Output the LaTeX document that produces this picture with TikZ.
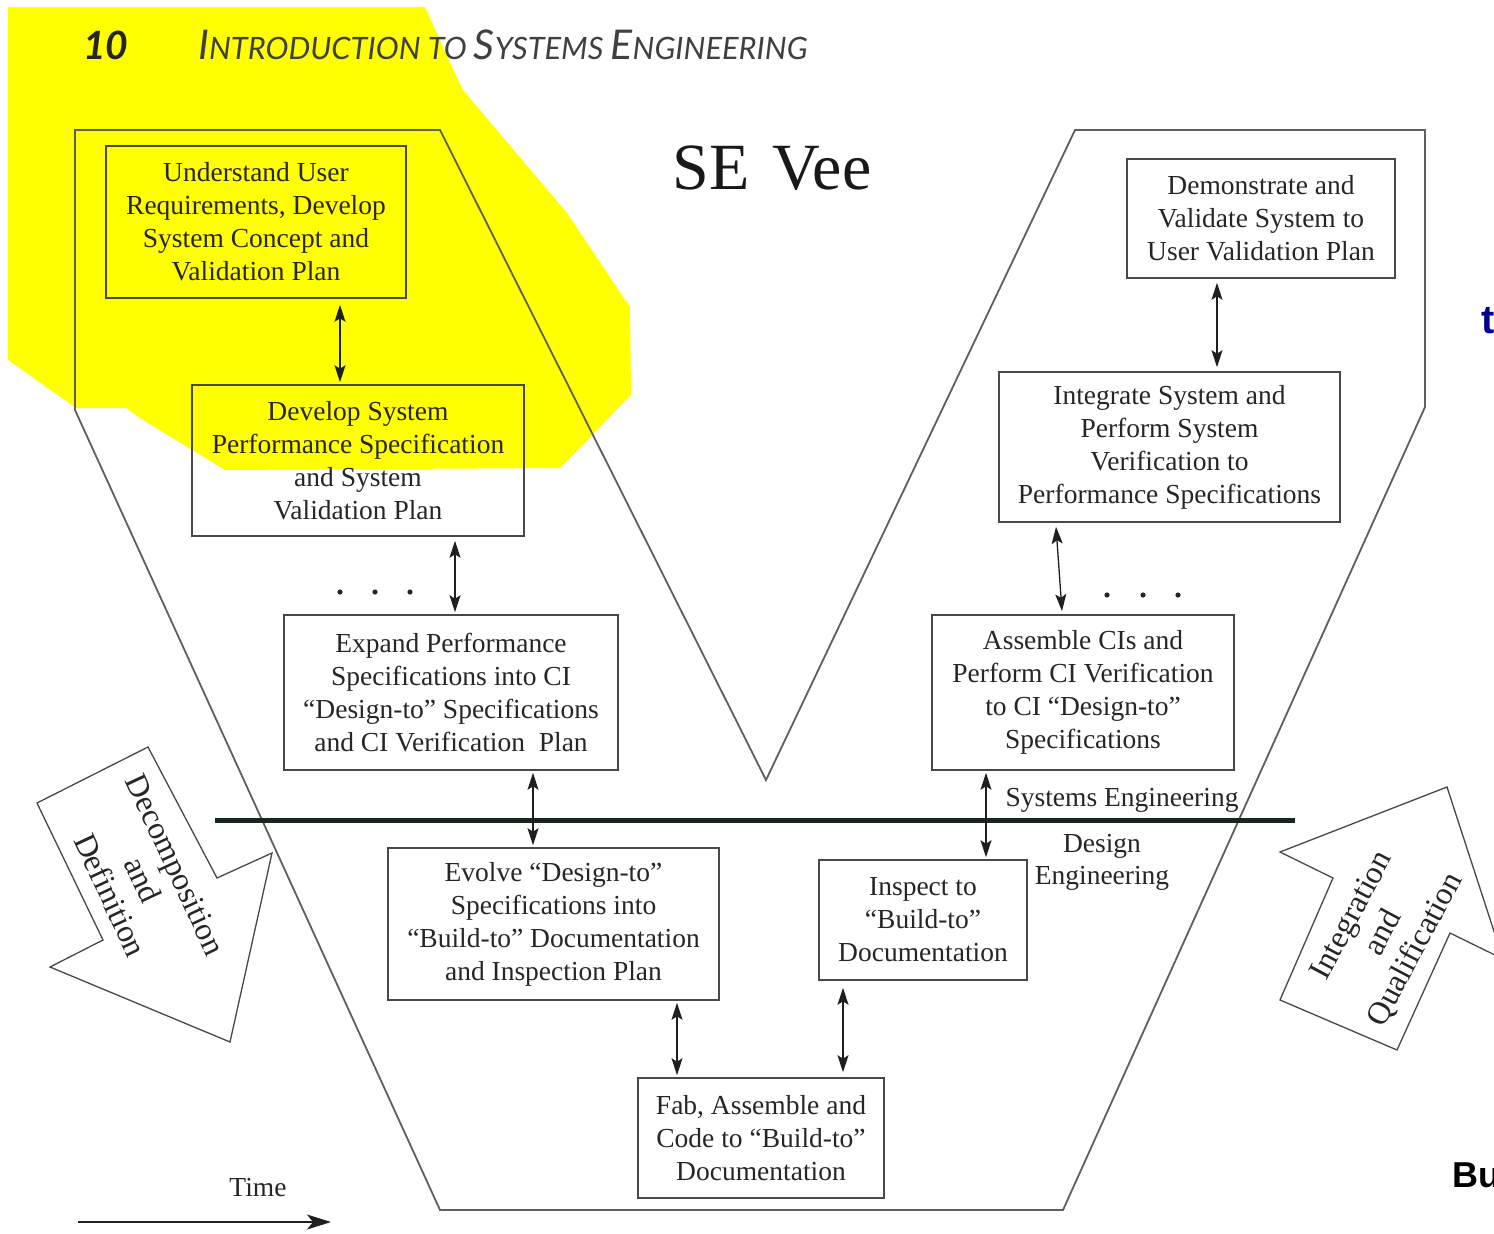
\documentclass[tikz,border=0pt]{standalone}
\usepackage{fontspec}
\setmainfont{Liberation Serif}
\newfontfamily\hdrfont{Lato}
\newfontfamily\slidefont{Liberation Sans}
\usetikzlibrary{arrows.meta}

\definecolor{hilite}{RGB}{255,255,0}
\definecolor{inkline}{RGB}{72,72,72}
\definecolor{veeline}{RGB}{95,95,95}
\definecolor{inktext}{RGB}{38,38,38}
\definecolor{barcol}{RGB}{24,38,30}
\definecolor{navyink}{RGB}{0,0,145}

\newcommand{\hdrcap}[1]{{\fontsize{41}{41}\selectfont #1}}
\newcommand{\hdrsmall}[1]{{\fontsize{30.8}{31}\selectfont #1}}

\tikzset{
  vbox/.style={draw=inkline, line width=1.6pt, inner sep=0pt, align=center,
    text=inktext, font=\fontsize{27.5}{33}\selectfont},
  tipS/.tip={Stealth[length=17pt,width=11pt,inset=3.5pt]},
  dbl/.style={tipS-tipS, line width=1.3pt, draw=black!88},
  veeline/.style={draw=veeline, line width=1.8pt, line join=miter},
  blockarrow/.style={draw=inkline, line width=1.3pt, fill=white, line join=miter},
  arrowtext/.style={align=center, text=inktext, font=\fontsize{32}{36}\selectfont},
  plain/.style={text=inktext, font=\fontsize{27.5}{32}\selectfont, align=center},
  dotmark/.style={fill=black!85},
}

\begin{document}
\begin{tikzpicture}[x=1pt,y=-1pt]
\useasboundingbox (0,0) rectangle (1494,1234);
\fill[white] (0,0) rectangle (1494,1234);

% highlighter marking over the first steps
\fill[hilite] (8,7) -- (425,7) -- (452,67) -- (463,90) -- (567,213) -- (630,307)
  -- (631,395) -- (560,468) -- (225,470) -- (143,420) -- (126,408) -- (76,408)
  -- (8,360) -- cycle;

% running head
\node[anchor=west, text=black!85, inner sep=0pt] (pageno) at (83,45)
  {\hdrfont\bfseries\itshape\fontsize{39}{39}\selectfont 10};
\node[anchor=west, text=black!75, inner sep=0pt] (runhead) at (198,45)
  {\hdrfont\itshape\hdrcap{I}\hdrsmall{NTRODUCTION TO }\hdrcap{S}\hdrsmall{YSTEMS }\hdrcap{E}\hdrsmall{NGINEERING}};

% the Vee outline
\draw[veeline] (75,130) -- (440,130) -- (766,780) -- (1075,130) -- (1425,130)
  -- (1425,407) -- (1063,1210) -- (440,1210) -- (75,410) -- cycle;

% title
\node[text=black!90, font=\fontsize{66}{66}\selectfont] (title) at (772,168) {SE\hspace{0.35em}Vee};

% boundary between systems and design engineering
\draw[barcol, line width=5pt] (215,820) -- (1295,820);
\node[plain, anchor=center] (selabel) at (1122,800) {Systems Engineering};
\node[plain] (delabel) at (1102,862) {Design\\Engineering};

% process steps
\node[vbox, minimum width=300pt, minimum height=152pt] (b1) at (256,222)
  {Understand User\\Requirements, Develop\\System Concept and\\Validation Plan};
\node[vbox, minimum width=332pt, minimum height=151pt] (b2) at (358,460.5)
  {Develop System\\Performance Specification\\and System\\Validation Plan};
\node[vbox, minimum width=334pt, minimum height=155pt] (b3) at (451,692.5)
  {Expand Performance\\Specifications into CI\\“Design-to” Specifications\\and CI Verification\ \ Plan};
\node[vbox, minimum width=331pt, minimum height=152pt] (b4) at (553.5,924)
  {Evolve “Design-to”\\Specifications into\\“Build-to” Documentation\\and Inspection Plan};
\node[vbox, minimum width=246pt, minimum height=120pt] (b5) at (761,1138)
  {Fab, Assemble and\\Code to “Build-to”\\Documentation};
\node[vbox, minimum width=208pt, minimum height=120pt] (b6) at (923,920)
  {Inspect to\\“Build-to”\\Documentation};
\node[vbox, minimum width=302pt, minimum height=155pt] (b7) at (1083,692.5)
  {Assemble CIs and\\Perform CI Verification\\to CI “Design-to”\\Specifications};
\node[vbox, minimum width=341pt, minimum height=150pt] (b8) at (1169.5,447)
  {Integrate System and\\Perform System\\Verification to\\Performance Specifications};
\node[vbox, minimum width=268pt, minimum height=119pt] (b9) at (1261,218.5)
  {Demonstrate and\\Validate System to\\User Validation Plan};

% two-way links between steps
\draw[dbl] ([xshift=84pt,yshift=-6pt]b1.south) -- ([xshift=-18pt,yshift=2pt]b2.north);
\draw[dbl] ([xshift=97pt,yshift=-4pt]b2.south) -- ([xshift=4pt,yshift=2pt]b3.north);
\draw[dbl] ([xshift=82pt,yshift=-2pt]b3.south) -- ([xshift=-20.5pt,yshift=2pt]b4.north);
\draw[dbl] ([xshift=123.5pt,yshift=-2pt]b4.south) -- ([xshift=-84pt,yshift=2pt]b5.north);
\draw[dbl] ([xshift=-80pt,yshift=-7pt]b6.south) -- ([xshift=82pt,yshift=5pt]b5.north);
\draw[dbl] ([xshift=-97pt,yshift=-2pt]b7.south) -- ([xshift=63pt,yshift=2pt]b6.north);
\draw[dbl] ([xshift=-113.5pt,yshift=-4pt]b8.south) -- ([xshift=-21pt,yshift=3pt]b7.north);
\draw[dbl] ([xshift=-44pt,yshift=-4pt]b9.south) -- ([xshift=47.5pt,yshift=4pt]b8.north);

% ellipsis dots
\foreach \dx in {340,375,410} \fill[dotmark] (\dx,592) circle (2.6);
\foreach \dx in {1107,1143,1178} \fill[dotmark] (\dx,595) circle (2.6);

% decomposition block arrow
\draw[blockarrow] (37,803) -- (148,747) -- (217,878) -- (272,853) -- (230,1042)
  -- (50,967) -- (103,940) -- cycle;
\node[arrowtext, rotate=-65] (decomp) at (143,880) {Decomposition\\and\\Definition};

% integration block arrow
\draw[blockarrow] (1280,852) -- (1447,787) -- (1503,959) -- (1450,933) -- (1397,1050)
  -- (1280,1000) -- (1333,878) -- cycle;
\node[arrowtext, rotate=62] (integ) at (1384,933) {Integration\\and\\Qualification};

% time axis
\node[plain] (timelabel) at (258,1188) {Time};
\coordinate (t0) at (78,1222);
\coordinate (t1) at (331,1222);
\draw[line width=1.3pt, draw=black!88, -{Stealth[length=24pt,width=15pt,inset=6pt]}] (t0) -- (t1);

% neighbouring slide text at the right edge
\node[anchor=west, inner sep=0pt, text=navyink, font=\slidefont\bfseries\fontsize{40}{40}\selectfont] (frag1) at (1481,321) {t};
\node[anchor=west, inner sep=0pt, text=black, font=\slidefont\bfseries\fontsize{36}{36}\selectfont] (frag2) at (1452,1175) {Bu};
\end{tikzpicture}
\end{document}
